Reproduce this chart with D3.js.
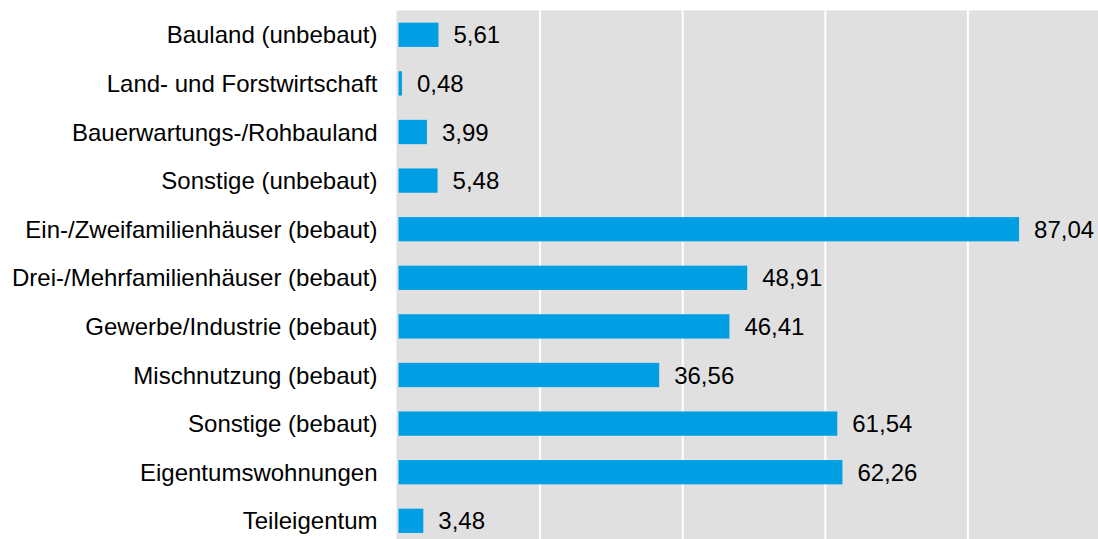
<!DOCTYPE html>
<html><head><meta charset="utf-8">
<script src="https://cdn.jsdelivr.net/npm/d3@7"></script>
<style>html,body{margin:0;padding:0;background:#fff;overflow:hidden}</style>
</head><body>
<script>
const categories = ["Bauland (unbebaut)","Land- und Forstwirtschaft","Bauerwartungs-/Rohbauland","Sonstige (unbebaut)","Ein-/Zweifamilienhäuser (bebaut)","Drei-/Mehrfamilienhäuser (bebaut)","Gewerbe/Industrie (bebaut)","Mischnutzung (bebaut)","Sonstige (bebaut)","Eigentumswohnungen","Teileigentum"];
const values = [5.61,0.48,3.99,5.48,87.04,48.91,46.41,36.56,61.54,62.26,3.48];
const valueLabels = ["5,61","0,48","3,99","5,48","87,04","48,91","46,41","36,56","61,54","62,26","3,48"];
const gridTicks = [0,20,40,60,80,100];

(function(){
const W = 1098, H = 539;
const svg = d3.select("body").append("svg").attr("width", W).attr("height", H);
const mLeft = 397.5, mTop = 10.5;
const x = d3.scaleLinear().domain([0,100]).range([mLeft, mLeft + 713]);
const y = d3.scaleBand().domain(categories).range([mTop, mTop + 11*48.6]).paddingInner(0.5).paddingOuter(0.25);

svg.append("rect").attr("x", mLeft - 1).attr("y", mTop).attr("width", W - mLeft + 1).attr("height", H - mTop).attr("fill", "#e0e0e0");

svg.append("g").selectAll("line").data(gridTicks.filter(d => d > 0)).join("line")
  .attr("x1", d => x(d)).attr("x2", d => x(d)).attr("y1", mTop).attr("y2", H)
  .attr("stroke", "#fff").attr("stroke-width", 2);

const font = "'Liberation Sans', Arial, sans-serif";
svg.append("g").selectAll("rect").data(values).join("rect")
  .attr("x", x(0) + 1).attr("y", (d,i) => y(categories[i]))
  .attr("width", d => x(d) - x(0)).attr("height", y.bandwidth())
  .attr("fill", "#009fe3");

svg.append("g").selectAll("text").data(values).join("text")
  .attr("x", d => x(d) + 16).attr("y", (d,i) => y(categories[i]) + y.bandwidth()/2)
  .attr("dy", "0.36em").attr("font-family", font).attr("font-size", 24).attr("fill", "#000")
  .text((d,i) => valueLabels[i]);

const yAxis = svg.append("g").attr("transform", `translate(${mLeft},0)`)
  .call(d3.axisLeft(y).tickSize(0).tickPadding(20));
yAxis.select(".domain").remove();
yAxis.selectAll("text").attr("font-family", font).attr("font-size", 24).attr("fill", "#000").attr("dy", "0.36em");
})();
</script>
</body></html>
